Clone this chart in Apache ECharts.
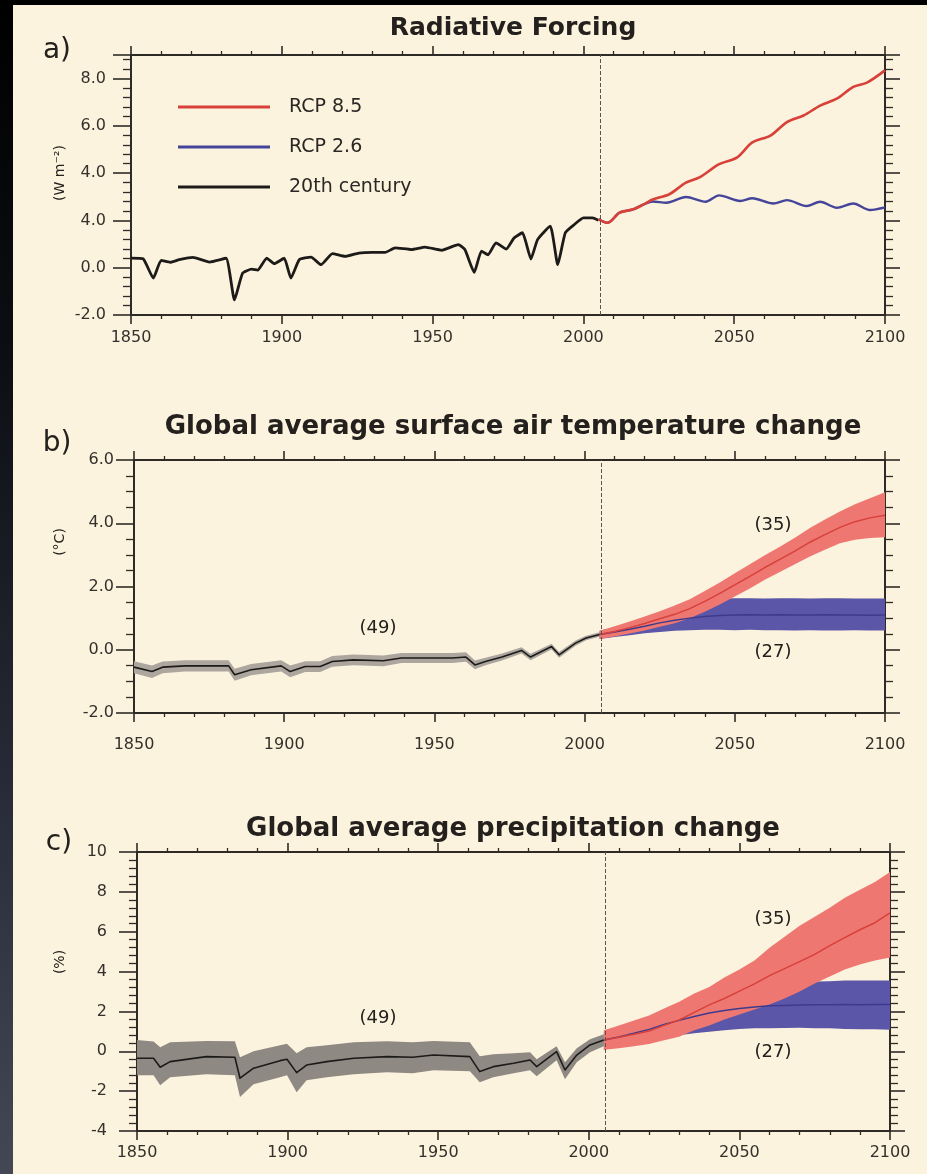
<!DOCTYPE html>
<html>
<head>
<meta charset="utf-8">
<title>Radiative forcing, temperature and precipitation change</title>
<script src="https://cdn.jsdelivr.net/npm/echarts@6/dist/echarts.min.js"></script>
<style>
  html, body { margin: 0; padding: 0; }
  body {
    width: 927px; height: 1174px; overflow: hidden; position: relative;
    background: linear-gradient(180deg, #000 0%, #0c0e13 30%, #2a2d3a 70%, #444754 100%);
  }
  #paper { position: absolute; left: 13px; top: 5px; right: 0; bottom: 0; background: #fcf3de; }
  #main { position: absolute; left: 0; top: 0; width: 927px; height: 1174px; }
</style>
</head>
<body>
<div id="paper"></div>
<div id="main"></div>
<script>
var FONT = '"DejaVu Sans", sans-serif';
var INK = '#2e2a26';

// ---- a) radiative forcing (W m-2)
var histYearsA = [1850, 1854, 1857.4, 1860, 1863, 1866, 1870.5, 1876, 1881.5, 1884.3, 1887, 1890, 1892, 1895, 1897.5, 1900.8, 1903, 1905.8, 1909.7, 1913, 1916.8, 1921, 1925.5, 1930, 1934.3, 1937.6, 1943, 1947.5, 1953, 1958.5, 1960.7, 1963.8, 1966.2, 1968.4, 1971, 1974.4, 1977, 1979.8, 1982.6, 1984.8, 1989, 1991.5, 1994, 1997, 2000, 2003, 2005];
var histA = [0.41, 0.38, -0.44, 0.31, 0.23, 0.34, 0.44, 0.24, 0.4, -1.36, -0.23, -0.06, -0.1, 0.41, 0.17, 0.4, -0.44, 0.34, 0.45, 0.13, 0.6, 0.48, 0.62, 0.65, 0.65, 0.84, 0.77, 0.87, 0.74, 0.98, 0.77, -0.2, 0.7, 0.55, 1.05, 0.79, 1.26, 1.48, 0.37, 1.19, 1.76, 0.13, 1.48, 1.83, 2.11, 2.11, 2.01];
var rcpYears85A = [2005, 2008, 2012, 2016.5, 2020, 2023, 2028.5, 2034, 2038.5, 2045, 2051, 2056, 2062, 2067.5, 2073, 2078.5, 2084, 2089.5, 2094, 2100];
var rcp85A = [2.05, 1.9, 2.33, 2.47, 2.68, 2.89, 3.11, 3.6, 3.82, 4.38, 4.67, 5.3, 5.59, 6.16, 6.44, 6.86, 7.15, 7.65, 7.83, 8.35];
var rcpYears26A = [2005, 2008, 2012, 2016.5, 2020, 2023, 2027.5, 2034, 2040.5, 2045, 2052, 2056, 2063, 2067.5, 2074, 2078.5, 2084, 2089.5, 2095, 2100];
var rcp26A = [2.05, 1.9, 2.33, 2.47, 2.68, 2.8, 2.75, 2.99, 2.79, 3.06, 2.82, 2.94, 2.72, 2.86, 2.61, 2.79, 2.54, 2.72, 2.44, 2.55];

// ---- b) surface air temperature change (deg C)
var histYearsB = [1850, 1856, 1859.5, 1867, 1881.5, 1883.5, 1889, 1899, 1902, 1907, 1912, 1916, 1923, 1933, 1939, 1948, 1956, 1960.5, 1963.5, 1967, 1972.5, 1979, 1982, 1989, 1991.5, 1997, 2000.5, 2005];
var histB = [-0.55, -0.69, -0.55, -0.51, -0.51, -0.79, -0.63, -0.51, -0.69, -0.53, -0.53, -0.37, -0.32, -0.35, -0.26, -0.26, -0.26, -0.23, -0.48, -0.37, -0.23, -0.02, -0.23, 0.1, -0.16, 0.21, 0.37, 0.48];
var histBUp = [-0.36, -0.5, -0.37, -0.33, -0.33, -0.6, -0.45, -0.33, -0.5, -0.36, -0.36, -0.2, -0.15, -0.18, -0.1, -0.1, -0.1, -0.08, -0.34, -0.25, -0.12, 0.08, -0.13, 0.19, -0.07, 0.29, 0.44, 0.55];
var histBLo = [-0.74, -0.89, -0.74, -0.69, -0.69, -0.98, -0.81, -0.69, -0.87, -0.7, -0.7, -0.54, -0.49, -0.52, -0.42, -0.42, -0.42, -0.38, -0.62, -0.49, -0.34, -0.12, -0.33, 0.01, -0.25, 0.13, 0.3, 0.41];

var futYears = [2005, 2010, 2015, 2020, 2025, 2030, 2035, 2040, 2045, 2050, 2055, 2060, 2065, 2070, 2075, 2080, 2085, 2090, 2095, 2100];
var rcp85B = [0.48, 0.58, 0.7, 0.83, 0.98, 1.12, 1.3, 1.53, 1.78, 2.05, 2.32, 2.6, 2.86, 3.12, 3.4, 3.64, 3.87, 4.05, 4.17, 4.25];
var rcp85BUp = [0.6, 0.74, 0.89, 1.05, 1.22, 1.4, 1.6, 1.86, 2.13, 2.42, 2.7, 2.99, 3.26, 3.54, 3.85, 4.12, 4.37, 4.6, 4.79, 4.98];
var rcp85BLo = [0.34, 0.42, 0.51, 0.61, 0.73, 0.84, 1.0, 1.2, 1.43, 1.68, 1.94, 2.21, 2.46, 2.7, 2.95, 3.16, 3.37, 3.48, 3.53, 3.56];
var rcp26B = [0.48, 0.56, 0.65, 0.74, 0.85, 0.93, 1.0, 1.05, 1.08, 1.1, 1.11, 1.1, 1.11, 1.1, 1.1, 1.11, 1.1, 1.1, 1.09, 1.1];
var rcp26BUp = [0.6, 0.71, 0.84, 0.98, 1.15, 1.32, 1.47, 1.57, 1.62, 1.63, 1.63, 1.62, 1.63, 1.63, 1.62, 1.63, 1.63, 1.62, 1.62, 1.62];
var rcp26BLo = [0.34, 0.4, 0.46, 0.52, 0.56, 0.6, 0.62, 0.63, 0.63, 0.62, 0.63, 0.62, 0.62, 0.61, 0.62, 0.61, 0.61, 0.62, 0.61, 0.61];

// ---- c) precipitation change (%)
var histYearsC = [1850, 1855.5, 1857.7, 1861, 1873, 1882.5, 1884.2, 1888.7, 1897.5, 1899.8, 1903, 1906.3, 1913, 1922, 1933, 1941.5, 1948.5, 1960.5, 1963.8, 1968.3, 1975, 1980.5, 1982.7, 1989.3, 1992.1, 1996, 2000.4, 2005];
var histC = [-0.35, -0.35, -0.8, -0.52, -0.27, -0.3, -1.35, -0.85, -0.47, -0.4, -1.07, -0.69, -0.52, -0.35, -0.27, -0.3, -0.19, -0.27, -1.02, -0.77, -0.6, -0.44, -0.77, -0.02, -0.94, -0.19, 0.32, 0.57];
var histCUp = [0.57, 0.49, 0.2, 0.45, 0.52, 0.5, -0.3, 0.0, 0.3, 0.38, -0.1, 0.2, 0.3, 0.45, 0.5, 0.45, 0.52, 0.45, -0.25, -0.15, -0.1, -0.05, -0.4, 0.25, -0.55, 0.15, 0.6, 0.85];
var histCLo = [-1.2, -1.2, -1.7, -1.3, -1.15, -1.2, -2.3, -1.65, -1.3, -1.2, -2.05, -1.45, -1.3, -1.15, -1.05, -1.1, -0.95, -1.0, -1.55, -1.3, -1.1, -0.95, -1.25, -0.45, -1.4, -0.55, -0.05, 0.25];
var rcp85C = [0.57, 0.7, 0.85, 1.02, 1.3, 1.57, 1.95, 2.33, 2.65, 3.02, 3.38, 3.8, 4.15, 4.5, 4.86, 5.3, 5.7, 6.1, 6.45, 6.95];
var rcp85CUp = [1.05, 1.3, 1.55, 1.8, 2.15, 2.49, 2.9, 3.22, 3.7, 4.1, 4.55, 5.2, 5.75, 6.3, 6.75, 7.2, 7.7, 8.1, 8.5, 9.0];
var rcp85CLo = [0.08, 0.15, 0.25, 0.36, 0.55, 0.73, 1.05, 1.3, 1.6, 1.85, 2.1, 2.35, 2.65, 3.0, 3.4, 3.75, 4.1, 4.35, 4.55, 4.7];
var rcp26C = [0.57, 0.72, 0.9, 1.1, 1.35, 1.55, 1.75, 1.92, 2.05, 2.15, 2.22, 2.28, 2.3, 2.32, 2.33, 2.34, 2.35, 2.34, 2.35, 2.35];
var rcp26CUp = [0.95, 1.2, 1.45, 1.72, 2.1, 2.32, 2.5, 2.7, 2.9, 3.05, 3.18, 3.3, 3.4, 3.45, 3.5, 3.52, 3.55, 3.55, 3.55, 3.55];
var rcp26CLo = [0.08, 0.25, 0.4, 0.5, 0.65, 0.8, 0.9, 0.98, 1.05, 1.12, 1.15, 1.15, 1.17, 1.18, 1.15, 1.15, 1.12, 1.1, 1.1, 1.08];

// tick labels (panel a really reads "4.0" twice)
var xTicks = [1850, 1900, 1950, 2000, 2050, 2100];
var xLabels = ['1850', '1900', '1950', '2000', '2050', '2100'];
var yTicksA = [-2, 0, 2, 4, 6, 8];
var yLabelsA = ['-2.0', '0.0', '4.0', '4.0', '6.0', '8.0'];
var yTicksB = [-2, 0, 2, 4, 6];
var yLabelsB = ['-2.0', '0.0', '2.0', '4.0', '6.0'];
var yTicksC = [-4, -2, 0, 2, 4, 6, 8, 10];
var yLabelsC = ['-4', '-2', '0', '2', '4', '6', '8', '10'];

var panels = [
  { left: 131, top: 55, width: 754, height: 260, min: -2, max: 9, minor: 5, yMargin: 25, xMargin: 15, ticks: yTicksA, labels: yLabelsA },
  { left: 134, top: 460, width: 751, height: 253, min: -2, max: 6, minor: 4, yMargin: 20, xMargin: 24, ticks: yTicksB, labels: yLabelsB },
  { left: 137, top: 852, width: 753, height: 279, min: -4, max: 10, minor: 5, yMargin: 30, xMargin: 14, ticks: yTicksC, labels: yLabelsC }
];

function pairs(xs, ys) {
  return xs.map(function (x, i) { return [x, ys[i]]; });
}
function pick(ticks, labels) {
  return function (v) {
    var i = ticks.indexOf(v);
    return i < 0 ? '' : labels[i];
  };
}

var grids = [], xAxes = [], yAxes = [];
panels.forEach(function (p, k) {
  grids.push({ left: p.left, top: p.top, width: p.width, height: p.height });
  ['bottom', 'top'].forEach(function (pos) {
    xAxes.push({
      gridIndex: k, type: 'value', position: pos, min: 1850, max: 2100, interval: 50,
      axisLine: { show: true, onZero: false, lineStyle: { color: INK, width: 2 } },
      axisTick: { show: true, length: 9, lineStyle: { color: INK, width: 1.6 } },
      minorTick: { show: true, splitNumber: 5, length: 4, lineStyle: { color: INK, width: 1.3 } },
      splitLine: { show: false },
      axisLabel: {
        show: pos === 'bottom', margin: p.xMargin, fontFamily: FONT, fontSize: 16, color: '#34302c',
        formatter: pick(xTicks, xLabels)
      }
    });
  });
  ['left', 'right'].forEach(function (pos) {
    yAxes.push({
      gridIndex: k, type: 'value', position: pos, min: p.min, max: p.max, interval: 2,
      axisLine: { show: true, onZero: false, lineStyle: { color: INK, width: 2 } },
      axisTick: { show: true, length: pos === 'left' ? 18 : 15, lineStyle: { color: INK, width: 1.6 } },
      minorTick: { show: true, splitNumber: p.minor, length: 8, lineStyle: { color: INK, width: 1.3 } },
      splitLine: { show: false },
      axisLabel: {
        show: pos === 'left', margin: p.yMargin, fontFamily: FONT, fontSize: 16, color: '#34302c',
        formatter: pick(p.ticks, p.labels)
      }
    });
  });
});

// uncertainty band: one polygon, upper edge forward and lower edge back
function band(k, xs, lo, hi, color) {
  return {
    type: 'custom', xAxisIndex: 2 * k, yAxisIndex: 2 * k, silent: true,
    data: pairs(xs, hi),
    renderItem: function (params, api) {
      if (params.dataIndex !== 0) return;
      var pts = [];
      for (var i = 0; i < xs.length; i++) pts.push(api.coord([xs[i], hi[i]]));
      for (var j = xs.length - 1; j >= 0; j--) pts.push(api.coord([xs[j], lo[j]]));
      return { type: 'polygon', shape: { points: pts }, style: { fill: color } };
    }
  };
}

function line(k, name, xs, ys, color, width, smooth) {
  return {
    type: 'line', name: name, xAxisIndex: 2 * k, yAxisIndex: 2 * k,
    data: pairs(xs, ys), showSymbol: false, smooth: smooth || false, silent: true,
    itemStyle: { color: color },
    lineStyle: { color: color, width: width, join: 'round' }
  };
}

var dash = {
  silent: true, symbol: 'none', label: { show: false },
  lineStyle: { type: 'dashed', color: '#5a544e', width: 1 },
  data: [{ xAxis: 2005.5 }]
};

var RED = '#d8403a', BLUE = '#3e3a8e', BLACK = '#1d1b19';
var RED_BAND = '#ef7772', BLUE_BAND = '#5b56a7';

var series = [];
// a)
var histLineA = line(0, '20th century', histYearsA, histA, BLACK, 2.8, 0.15);
histLineA.markLine = dash;
series.push(histLineA);
series.push(line(0, 'RCP 2.6', rcpYears26A, rcp26A, '#44449a', 2.4, 0.3));
series.push(line(0, 'RCP 8.5', rcpYears85A, rcp85A, RED, 2.6, 0.3));
// b)
series.push(band(1, histYearsB, histBLo, histBUp, '#aca69f'));
var histLineB = line(1, 'hist b', histYearsB, histB, BLACK, 1.6);
histLineB.markLine = dash;
series.push(histLineB);
series.push(band(1, futYears, rcp26BLo, rcp26BUp, BLUE_BAND));
series.push(line(1, 'rcp26 b', futYears, rcp26B, BLUE, 1.5));
series.push(band(1, futYears, rcp85BLo, rcp85BUp, RED_BAND));
series.push(line(1, 'rcp85 b', futYears, rcp85B, RED, 1.5));
// c)
series.push(band(2, histYearsC, histCLo, histCUp, '#8f8984'));
var histLineC = line(2, 'hist c', histYearsC, histC, BLACK, 1.6);
histLineC.markLine = dash;
series.push(histLineC);
series.push(band(2, futYears, rcp26CLo, rcp26CUp, BLUE_BAND));
series.push(line(2, 'rcp26 c', futYears, rcp26C, BLUE, 1.5));
series.push(band(2, futYears, rcp85CLo, rcp85CUp, RED_BAND));
series.push(line(2, 'rcp85 c', futYears, rcp85C, RED, 1.5));

function txt(x, y, s, font, extra) {
  var el = {
    type: 'text', x: x, y: y, silent: true,
    style: { text: s, font: font, fill: '#23201d', align: 'center', verticalAlign: 'middle' }
  };
  if (extra) for (var key in extra) el[key] = extra[key];
  return el;
}

var graphics = [
  txt(513, 28, 'Radiative Forcing', 'bold 25px ' + FONT),
  txt(513, 427, 'Global average surface air temperature change', 'bold 26px ' + FONT),
  txt(513, 829, 'Global average precipitation change', 'bold 26px ' + FONT),
  txt(57, 51, 'a)', '28px ' + FONT),
  txt(57, 444, 'b)', '28px ' + FONT),
  txt(59, 843, 'c)', '28px ' + FONT),
  txt(60, 173, '(W m\u207B\u00B2)', '14px ' + FONT, { rotation: Math.PI / 2 }),
  txt(60, 542, '(\u00B0C)', '14px ' + FONT, { rotation: Math.PI / 2 }),
  txt(60, 962, '(%)', '14px ' + FONT, { rotation: Math.PI / 2 }),
  txt(378, 628, '(49)', '18px ' + FONT),
  txt(773, 525, '(35)', '18px ' + FONT),
  txt(773, 652, '(27)', '18px ' + FONT),
  txt(378, 1018, '(49)', '18px ' + FONT),
  txt(773, 919, '(35)', '18px ' + FONT),
  txt(773, 1052, '(27)', '18px ' + FONT)
];

var myChart = echarts.init(document.getElementById('main'), null, { renderer: 'canvas' });
myChart.setOption({
  backgroundColor: 'transparent',
  animation: false,
  legend: {
    data: ['RCP 8.5', 'RCP 2.6', '20th century'],
    orient: 'vertical', left: 173, top: 92,
    icon: 'rect', itemWidth: 92, itemHeight: 3, itemGap: 20,
    selectedMode: false,
    textStyle: { fontFamily: FONT, fontSize: 19, color: '#2b2724', lineHeight: 20, padding: [0, 0, 0, 14] }
  },
  grid: grids,
  xAxis: xAxes,
  yAxis: yAxes,
  series: series,
  graphic: graphics
});
</script>
</body>
</html>
